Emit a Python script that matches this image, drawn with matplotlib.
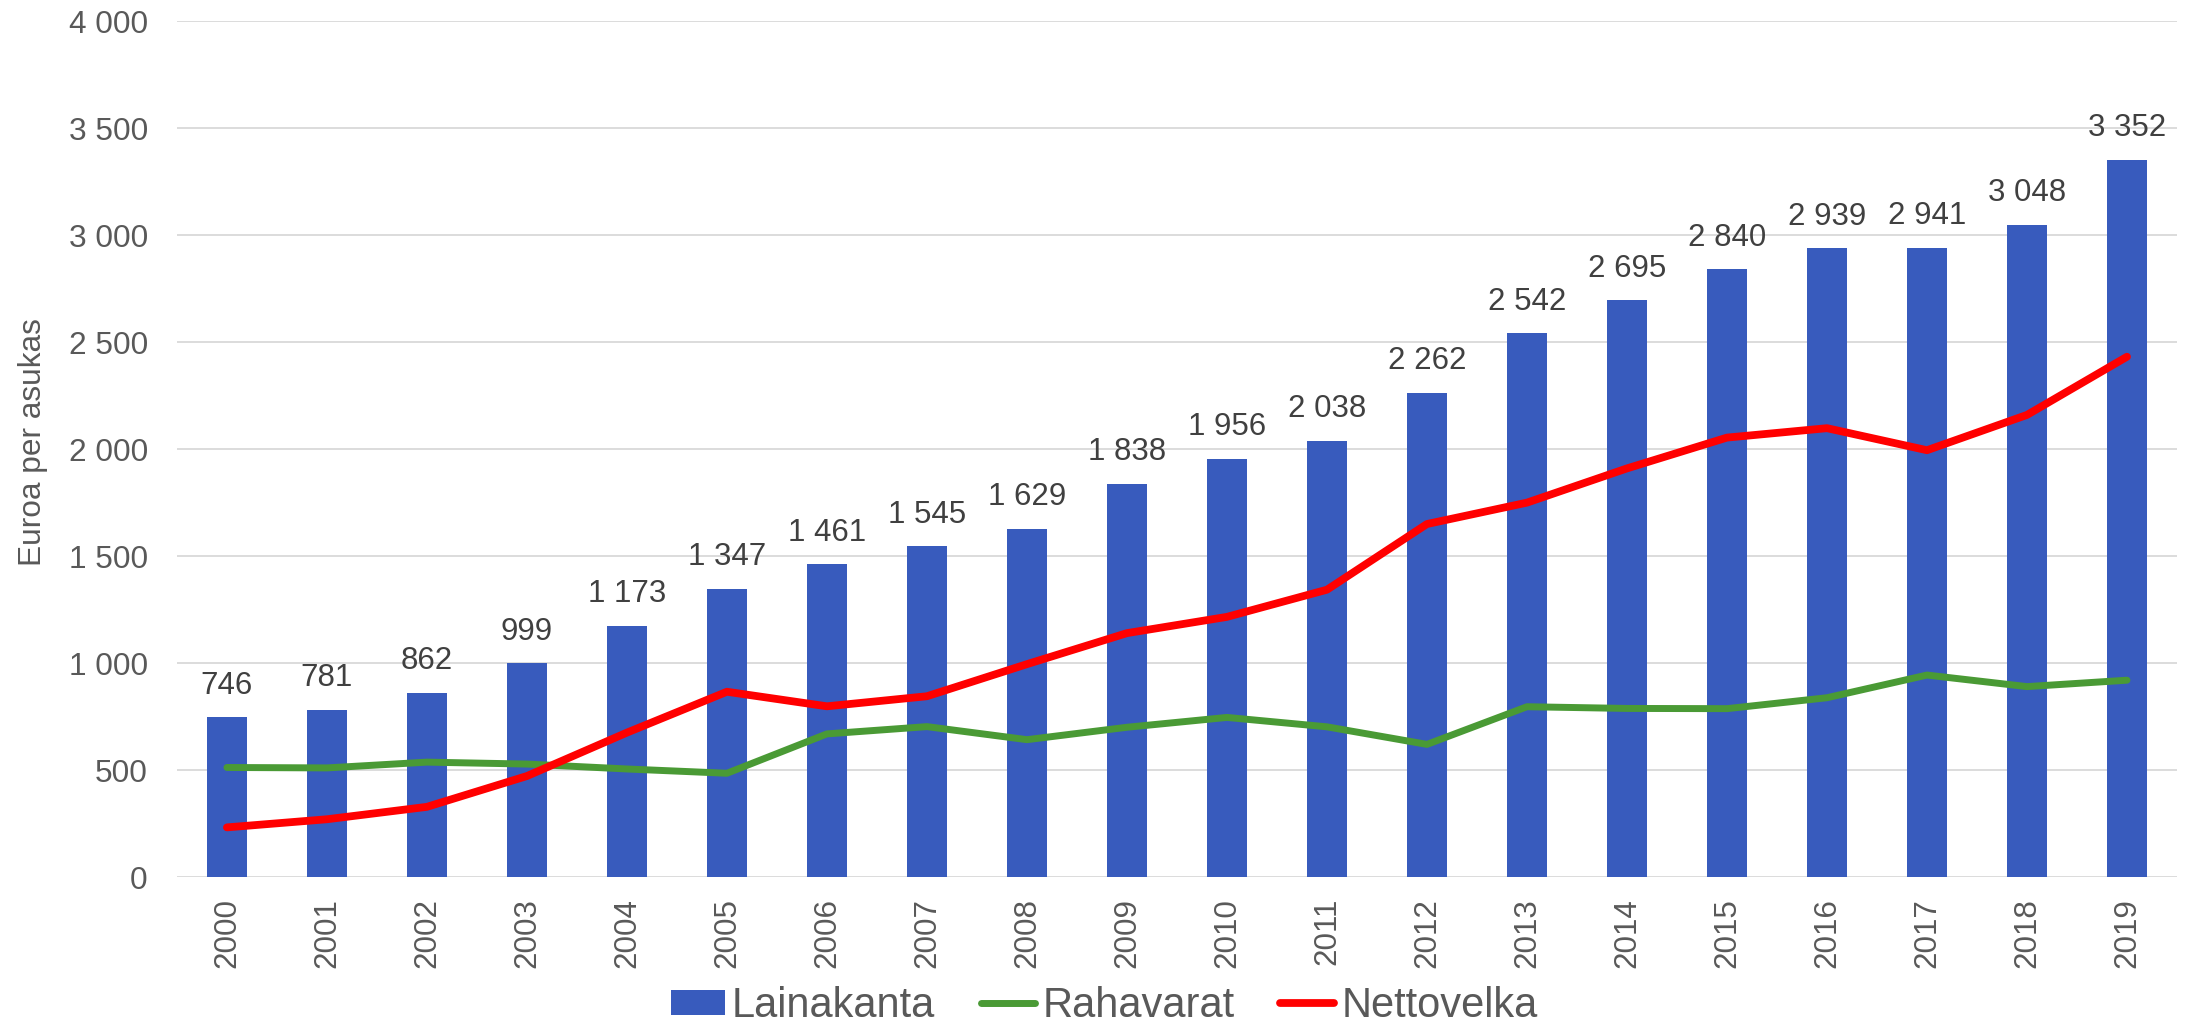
import matplotlib.pyplot as plt
import numpy as np

plt.rcParams["font.family"] = ["Liberation Sans", "DejaVu Sans"]

years = [str(y) for y in range(2000, 2020)]
lainakanta = [746, 781, 862, 999, 1173, 1347, 1461, 1545, 1629, 1838,
              1956, 2038, 2262, 2542, 2695, 2840, 2939, 2941, 3048, 3352]
rahavarat = [512, 510, 537, 528, 505, 485, 669, 703, 642, 700,
             746, 702, 620, 796, 788, 787, 838, 944, 890, 920]
nettovelka = [232, 270, 328, 472, 675, 866, 798, 845, 995, 1140,
              1216, 1343, 1650, 1750, 1910, 2054, 2098, 1995, 2160, 2432]
yticks = [0, 500, 1000, 1500, 2000, 2500, 3000, 3500, 4000]

BLUE = "#385BBD"
GREEN = "#4A9A35"
RED = "#FF0000"
TXT = "#595959"


def fmt(v):
    return f"{v:,}".replace(",", " ")


fig = plt.figure(figsize=(21.95, 10.33), dpi=100)
ax = fig.add_axes([0.0806, 0.151, 0.9112, 0.8284])

x = np.arange(len(years))
bars = ax.bar(x, lainakanta, width=0.4, color=BLUE, zorder=2, label="Lainakanta")
l1, = ax.plot(x, rahavarat, color=GREEN, lw=5, solid_capstyle="round",
              solid_joinstyle="round", zorder=3, label="Rahavarat")
l2, = ax.plot(x, nettovelka, color=RED, lw=5.6, solid_capstyle="round",
              solid_joinstyle="round", zorder=4, label="Nettovelka")

ax.bar_label(bars, labels=[fmt(v) for v in lainakanta], padding=12,
             fontsize=22.5, color="#404040")

ax.set_xlim(-0.5, len(years) - 0.5)
ax.set_ylim(0, 4000)
ax.set_yticks(yticks)
ax.set_yticklabels([fmt(v) for v in yticks])
ax.set_xticks(x)
ax.set_xticklabels(years, rotation=90)
ax.tick_params(axis="y", length=0, pad=21, labelsize=22.8, labelcolor=TXT)
ax.tick_params(axis="x", length=0, pad=15, labelsize=22.6, labelcolor=TXT)
ax.grid(axis="y", color="#D9D9D9", lw=1.3, zorder=0)
ax.set_axisbelow(True)
for s in ax.spines.values():
    s.set_visible(False)

fig.text(0.015, 0.5716, "Euroa per asukas", rotation=90, ha="center",
         va="center", fontsize=22.8, color=TXT)

leg = fig.legend([bars, l1, l2], ["Lainakanta", "Rahavarat", "Nettovelka"],
                 loc="center", bbox_to_anchor=(0.503, 0.026), ncol=3,
                 frameon=False, fontsize=30, handlelength=1.3,
                 handleheight=0.55, handletextpad=0.17, columnspacing=1.1,
                 borderpad=0, borderaxespad=0)
for t in leg.get_texts():
    t.set_color(TXT)

fig.savefig("out.png", dpi=100)
